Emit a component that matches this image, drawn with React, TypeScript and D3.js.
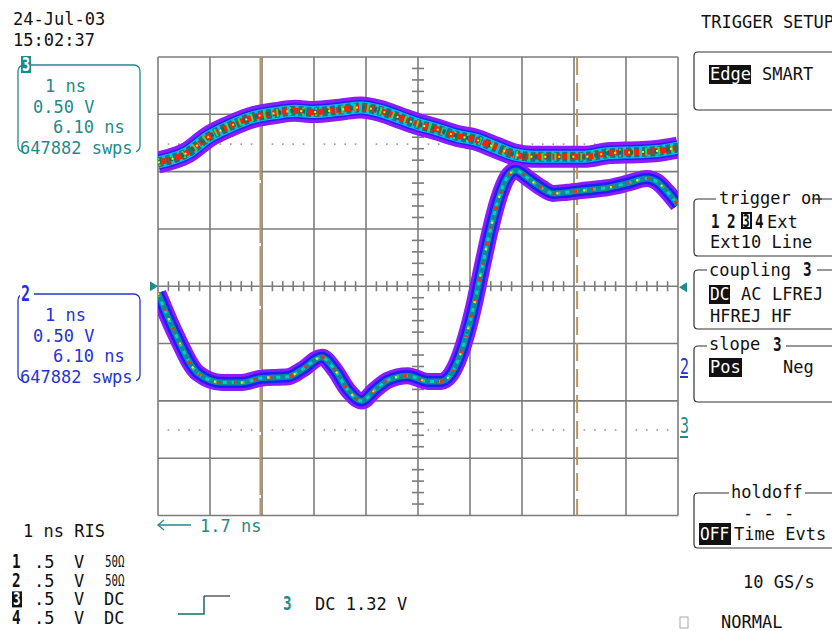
import React from 'react';
import * as d3 from 'd3';

// time in ns (1 ns/div), level in V (0.5 V/div)
const trace3T = [0, 0.58, 0.96, 1.35, 1.87, 2.25, 2.63, 3.0, 3.5, 3.9, 4.27, 4.65, 4.96, 5.35, 5.77, 6.1, 6.5, 6.85, 7.2, 7.7, 8.2, 8.65, 9.2, 9.6, 10];
const trace3V = [1.08, 1.17, 1.3, 1.39, 1.48, 1.51, 1.53, 1.52, 1.54, 1.56, 1.53, 1.47, 1.42, 1.37, 1.31, 1.28, 1.21, 1.15, 1.13, 1.13, 1.13, 1.16, 1.17, 1.18, 1.21];

const trace2T = [0, 0.33, 0.77, 1.23, 1.61, 2.0, 2.5, 2.76, 3.15, 3.4, 3.65, 3.92, 4.17, 4.42, 4.8, 5.19, 5.44, 5.63, 5.81, 5.96, 6.1, 6.23, 6.38, 6.54, 6.73, 6.88, 7.12, 7.37, 7.6, 7.87, 8.25, 8.65, 9.04, 9.4, 9.6, 9.8, 10];
const trace2V = [-0.06, -0.41, -0.76, -0.84, -0.84, -0.8, -0.79, -0.73, -0.62, -0.73, -0.905, -1.0, -0.905, -0.82, -0.78, -0.83, -0.83, -0.77, -0.6, -0.38, -0.12, 0.16, 0.47, 0.75, 0.96, 1.01, 0.94, 0.86, 0.81, 0.82, 0.84, 0.86, 0.9, 0.94, 0.91, 0.82, 0.71];

const cursorT = [1.97, 8.06];
const dotLevels = [1.24, -1.254];
const timeDivs = d3.range(0, 11);
const voltDivs = d3.range(-2, 2.01, 0.5);

const chanRows = [
  { n: '1', v: '.5', u: 'V', c: '50Ω', inv: false },
  { n: '2', v: '.5', u: 'V', c: '50Ω', inv: false },
  { n: '3', v: '.5', u: 'V', c: 'DC', inv: true },
  { n: '4', v: '.5', u: 'V', c: 'DC', inv: false },
];
const chanBoxes = [
  { id: '3', top: 65, color: '#1f8a8a', inv: true, lines: ['1 ns', '0.50 V', '6.10 ns', '647882 swps'] },
  { id: '2', top: 294, color: '#2533d4', inv: false, lines: ['1 ns', '0.50 V', '6.10 ns', '647882 swps'] },
];

const FONT = '"DejaVu Sans Mono", monospace';
const TEAL = '#1f8a8a';

const L = 158, R = 678, TOP = 57, BOT = 515.5;

const x = d3.scaleLinear().domain([0, 10]).range([L, R]);
const y = d3.scaleLinear().domain([-2, 2]).range([BOT, TOP]);

const line = d3.line<number>().curve(d3.curveMonotoneX);

function pathOf(ts: number[], vs: number[]) {
  return line(ts.map((t, i) => [x(t), y(vs[i])] as any) as any) || '';
}

const Txt = ({ x, y, children, fill = '#111', size = 17, weight = 'normal', anchor = 'start' }: any) => (
  <text x={x} y={y} fill={fill} fontSize={size} fontWeight={weight} textAnchor={anchor} fontFamily={FONT}>{children}</text>
);

// tall narrow glyphs, like the scope's bitmap font
const Narrow = ({ x, y, children, fill = '#111', size = 18, weight = 'bold', sx = 0.75, sy = 1.05 }: any) => (
  <text transform={`translate(${x},${y}) scale(${sx},${sy})`} fill={fill} fontSize={size} fontWeight={weight} fontFamily={FONT}>{children}</text>
);

function rightBox(top: number, bottom: number) {
  return `M840,${top} H698 Q694,${top} 694,${top + 4} V${bottom - 4} Q694,${bottom} 698,${bottom} H840`;
}

export default function App() {
  const p3 = pathOf(trace3T, trace3V);
  const p2 = pathOf(trace2T, trace2V);

  const minor = d3.range(0, 10.001, 0.2).filter(t => Math.abs(t - Math.round(t)) > 0.01);
  const minorV = d3.range(-2, 2.001, 0.1).filter(v => Math.abs(v * 2 - Math.round(v * 2)) > 0.01);

  return (
    <svg width={832} height={631} style={{ position: 'fixed', left: 0, top: 0, background: '#fff' }}>
      <defs>
        <clipPath id="plot"><rect x={L} y={TOP} width={R - L} height={BOT - TOP} /></clipPath>
      </defs>

      {/* grid */}
      <g stroke="#7c7c7c" strokeWidth={1.6}>
        {timeDivs.map(t => <line key={'v' + t} x1={x(t)} x2={x(t)} y1={TOP} y2={BOT} />)}
        {voltDivs.map(v => <line key={'h' + v} x1={L} x2={R} y1={y(v)} y2={y(v)} />)}
        {minor.map(t => <line key={'mt' + t} x1={x(t)} x2={x(t)} y1={y(0) - 5} y2={y(0) + 5} />)}
        {minorV.map(v => <line key={'mv' + v} x1={x(5) - 6} x2={x(5) + 6} y1={y(v)} y2={y(v)} />)}
      </g>
      {dotLevels.map(v => (
        <g key={'d' + v} fill="#9a9a9a">
          {minor.map(t => <rect key={t} x={x(t) - 0.8} y={y(v) - 0.8} width={1.6} height={1.6} />)}
        </g>
      ))}
      {cursorT.map((t, i) => (
        <line key={'c' + t} x1={x(t)} x2={x(t)} y1={TOP} y2={BOT} stroke="#b89660" strokeWidth={2}
          strokeDasharray={i === 0 ? '60 3' : '18 8'} />
      ))}

      {/* persistence traces */}
      <g clipPath="url(#plot)" fill="none" strokeLinecap="butt" strokeLinejoin="round">
        <path d={p3} stroke="#8a1cff" strokeWidth={22} />
        <path d={p3} stroke="#2020ff" strokeWidth={15} />
        <path d={p3} stroke="#00c0f0" strokeWidth={12} />
        <path d={p3} stroke="#0a7a78" strokeWidth={10} strokeDasharray="5 3" />
        <path d={p3} stroke="#ff2000" strokeWidth={6} strokeDasharray="8 2 5 3" />
        <path d={p3} stroke="#20e060" strokeWidth={8} strokeDasharray="2 11" />
        <path d={p3} stroke="#0a6e6c" strokeWidth={4} strokeDasharray="3 9" />
        <path d={p3} stroke="#ffee00" strokeWidth={2} strokeDasharray="2 12" />

        <path d={p2} stroke="#8a1cff" strokeWidth={17} />
        <path d={p2} stroke="#1c1cff" strokeWidth={11} />
        <path d={p2} stroke="#0a8a9a" strokeWidth={6} />
        <path d={p2} stroke="#00d0c0" strokeWidth={3} strokeDasharray="4 5" />
        <path d={p2} stroke="#ff2a00" strokeWidth={3} strokeDasharray="3 14 2 18" />
        <path d={p2} stroke="#ffe600" strokeWidth={2} strokeDasharray="2 25" />
      </g>

      {/* edge markers */}
      <path d={`M150,${y(0) - 5} L158,${y(0)} L150,${y(0) + 5} Z`} fill={TEAL} />
      <path d={`M687,${y(0) - 4} L679,${y(0) + 1} L687,${y(0) + 6} Z`} fill={TEAL} />
      <Narrow x={680} y={374} fill="#2533d4" size={20} weight="normal">2</Narrow>
      <line x1={680} x2={688} y1={377} y2={377} stroke="#2533d4" strokeWidth={2} />
      <Narrow x={680} y={433} fill={TEAL} size={20} weight="normal">3</Narrow>
      <line x1={680} x2={688} y1={437} y2={437} stroke={TEAL} strokeWidth={2} />

      {/* date */}
      <Txt x={13} y={25}>24-Jul-03</Txt>
      <Txt x={13} y={46}>15:02:37</Txt>

      {/* channel boxes */}
      {chanBoxes.map(b => (
        <g key={b.id}>
          <rect x={18} y={b.top} width={122} height={87} rx={6} fill="none" stroke={b.color} strokeWidth={1.3} />
          <rect x={23} y={b.top + 76} width={113} height={16} fill="#fff" />
          {b.inv ? (
            <g>
              <rect x={21} y={b.top - 9} width={10} height={17} fill={b.color} />
              <Narrow x={22} y={b.top + 6} fill="#fff" size={18}>{b.id}</Narrow>
            </g>
          ) : (
            <g>
              <rect x={20} y={b.top - 5} width={14} height={10} fill="#fff" />
              <Narrow x={21} y={b.top + 7} fill={b.color} size={20}>{b.id}</Narrow>
            </g>
          )}
          <Txt x={45} y={b.top + 27} fill={b.color}>{b.lines[0]}</Txt>
          <Txt x={33} y={b.top + 48} fill={b.color}>{b.lines[1]}</Txt>
          <Txt x={53} y={b.top + 68} fill={b.color}>{b.lines[2]}</Txt>
          <Txt x={20} y={b.top + 89} fill={b.color}>{b.lines[3]}</Txt>
        </g>
      ))}

      {/* bottom left */}
      <Txt x={23} y={537}>1 ns RIS</Txt>
      {chanRows.map((r, i) => {
        const by = 568 + i * 18.7;
        return (
          <g key={r.n}>
            {r.inv ? (
              <g>
                <rect x={12} y={by - 14} width={10} height={16} fill="#111" />
                <Narrow x={13} y={by} fill="#fff" size={17}>{r.n}</Narrow>
              </g>
            ) : (
              <Narrow x={12} y={by} size={19}>{r.n}</Narrow>
            )}
            <Txt x={34} y={by}>{r.v}</Txt>
            <Txt x={74} y={by}>{r.u}</Txt>
            {r.c === 'DC'
              ? <Txt x={104} y={by}>{r.c}</Txt>
              : <Narrow x={105} y={by - 1} size={15} weight="normal" sx={0.72} sy={1.0}>{r.c}</Narrow>}
          </g>
        );
      })}

      <line x1={158} x2={191} y1={525} y2={525} stroke={TEAL} strokeWidth={1.3} />
      <path d="M164,520 L158,525 L164,530" fill="none" stroke={TEAL} strokeWidth={1.3} />
      <Txt x={200} y={532} fill={TEAL}>1.7 ns</Txt>

      <path d="M178,614 H204 V596" fill="none" stroke="#1a6a68" strokeWidth={1.5} />
      <path d="M204,596 H230" fill="none" stroke="#333" strokeWidth={1.2} />
      <Narrow x={283} y={610} fill={TEAL} size={19}>3</Narrow>
      <Txt x={315} y={610}>DC 1.32 V</Txt>

      {/* right menu */}
      <Txt x={701} y={28}>TRIGGER SETUP</Txt>

      <path d={rightBox(52, 110)} fill="none" stroke="#333" strokeWidth={1.2} />
      <rect x={709} y={65} width={42} height={19} fill="#111" />
      <Txt x={710} y={80} fill="#fff">Edge</Txt>
      <Txt x={762} y={80}>SMART</Txt>

      <path d={rightBox(199, 256)} fill="none" stroke="#333" strokeWidth={1.2} />
      <rect x={716} y={190} width={100} height={14} fill="#fff" />
      <Txt x={719} y={204}>trigger on</Txt>
      <line x1={812} x2={822} y1={199} y2={199} stroke="#333" strokeWidth={1.2} />
      <Narrow x={711} y={228} size={19}>1</Narrow>
      <Narrow x={727} y={228} size={19}>2</Narrow>
      <rect x={741} y={212} width={11} height={17} fill="#111" />
      <rect x={743} y={214} width={7} height={13} fill="#fff" />
      <Narrow x={742.5} y={226.5} size={16}>3</Narrow>
      <Narrow x={755} y={228} size={19}>4</Narrow>
      <Txt x={767} y={228}>Ext</Txt>
      <Txt x={710} y={248}>Ext10 Line</Txt>

      <path d={rightBox(270, 329)} fill="none" stroke="#333" strokeWidth={1.2} />
      <rect x={707} y={262} width={110} height={14} fill="#fff" />
      <Txt x={709} y={276}>coupling</Txt>
      <Narrow x={803} y={276} size={19}>3</Narrow>
      <rect x={709} y={285} width={21} height={19} fill="#111" />
      <Narrow x={710} y={300} fill="#fff" size={17} weight="normal" sx={0.95}>DC</Narrow>
      <Txt x={741} y={300}>AC</Txt>
      <Txt x={772} y={300}>LFREJ</Txt>
      <Txt x={710} y={322}>HFREJ HF</Txt>

      <path d={rightBox(346, 402)} fill="none" stroke="#333" strokeWidth={1.2} />
      <rect x={707} y={337} width={79} height={14} fill="#fff" />
      <Txt x={709} y={350}>slope</Txt>
      <Narrow x={773} y={351} size={19}>3</Narrow>
      <rect x={709} y={358} width={33} height={19} fill="#111" />
      <Txt x={710} y={373} fill="#fff">Pos</Txt>
      <Txt x={783} y={373}>Neg</Txt>

      <path d={rightBox(493, 548)} fill="none" stroke="#333" strokeWidth={1.2} />
      <rect x={729} y={485} width={76} height={14} fill="#fff" />
      <Txt x={731} y={498}>holdoff</Txt>
      <Txt x={743} y={519}>- - -</Txt>
      <rect x={699} y={523} width={32} height={22} fill="#111" />
      <Narrow x={700} y={540} fill="#fff" size={17} weight="normal" sx={0.95}>OFF</Narrow>
      <Txt x={734} y={540}>Time Evts</Txt>

      <Txt x={743} y={588}>10 GS/s</Txt>
      <rect x={680} y={617} width={8} height={11} fill="none" stroke="#aaa" strokeWidth={1} />
      <Txt x={721} y={628}>NORMAL</Txt>
    </svg>
  );
}
